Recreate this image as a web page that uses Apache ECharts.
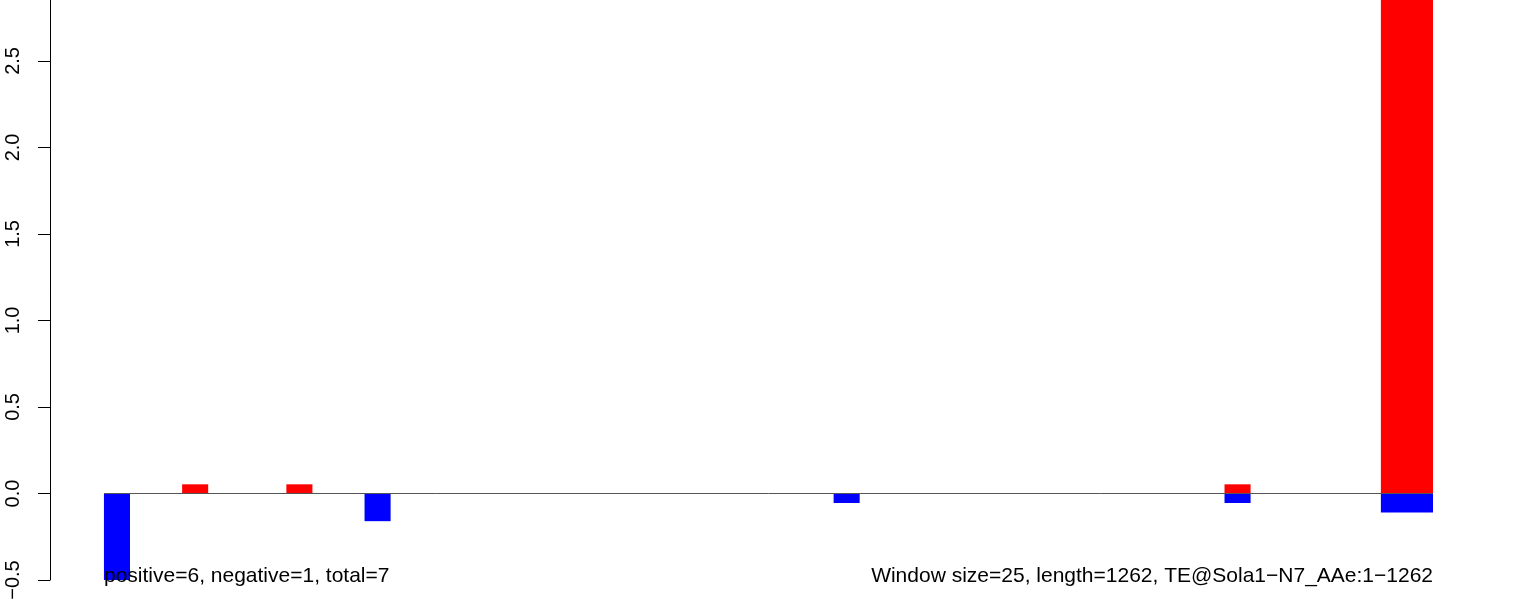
<!DOCTYPE html>
<html>
<head>
<meta charset="utf-8">
<script src="https://cdn.jsdelivr.net/npm/echarts@6/dist/echarts.min.js"></script>
<style>
  html, body { margin: 0; padding: 0; background: #fff; }
  #chart { width: 1533px; height: 607px; }
</style>
</head>
<body>
<div id="chart"></div>
<script>
// window index (25 bp windows), how many windows each bar covers, and the scores
const windows = [0, 3, 7, 10, 28, 43, 49]
const spans = [1, 1, 1, 1, 1, 1, 2]
const positive = [0, 0.053, 0.053, 0, 0, 0.053, 3.2]
const negative = [-0.53, 0, 0, -0.16, -0.055, -0.055, -0.11]
const yTicks = [-0.5, 0, 0.5, 1.0, 1.5, 2.0, 2.5]
const windowCount = 51
const leftNote = 'positive=6, negative=1, total=7'
const rightNote = 'Window size=25, length=1262, TE@Sola1\u2212N7_AAe:1\u22121262'

const font = '"Liberation Sans", Arial, Helvetica, sans-serif'

const chart = echarts.init(document.getElementById('chart'))

// one rectangle per window run
const renderBar = (params, api) => {
  const start = api.value(0)
  const span = api.value(1)
  const val = api.value(2)
  if (!val) return null
  const p0 = api.coord([start, 0])
  const p1 = api.coord([start + span, val])
  const cs = params.coordSys
  const rect = echarts.graphic.clipRectByRect({
    x: p0[0],
    y: Math.min(p0[1], p1[1]),
    width: p1[0] - p0[0],
    height: Math.abs(p1[1] - p0[1])
  }, { x: cs.x, y: cs.y, width: cs.width, height: cs.height })
  if (!rect) return null
  return { type: 'rect', shape: rect, style: { fill: api.visual('color') } }
}

const option = {
  animation: false,
  backgroundColor: '#ffffff',
  grid: { left: 50, right: 100, top: 0, bottom: 27 },
  xAxis: {
    type: 'value',
    // the plot region starts a little left of the first window (R axis gap)
    min: -2.07,
    max: windowCount,
    axisLine: { show: false },
    axisTick: { show: false },
    axisLabel: { show: false },
    splitLine: { show: false }
  },
  yAxis: {
    type: 'value',
    min: -0.5,
    max: 2.852,
    interval: 0.5,
    axisLine: { show: true, onZero: false, lineStyle: { color: '#000', width: 1 } },
    axisTick: { show: true, length: 12, lineStyle: { color: '#000' }, customValues: yTicks },
    axisLabel: {
      customValues: yTicks,
      rotate: 90,
      margin: 27,
      color: '#000',
      fontFamily: font,
      fontSize: 20,
      formatter: v => v.toFixed(1).replace('-', '\u2212')
    },
    splitLine: { show: false }
  },
  series: [
    {
      name: 'positive',
      type: 'custom',
      renderItem: renderBar,
      itemStyle: { color: '#ff0000' },
      data: windows.map((w, i) => [w, spans[i], positive[i]]),
      markLine: {
        silent: true,
        symbol: 'none',
        label: { show: false },
        lineStyle: { color: '#555555', width: 1, type: 'solid' },
        data: [[{ coord: [0, 0] }, { coord: [windowCount, 0] }]]
      },
      z: 2
    },
    {
      name: 'negative',
      type: 'custom',
      renderItem: renderBar,
      itemStyle: { color: '#0000ff' },
      data: windows.map((w, i) => [w, spans[i], negative[i]]),
      z: 2
    }
  ],
  graphic: [
    {
      type: 'text',
      left: 104,
      top: 566,
      z: 10,
      style: { text: leftNote, fill: '#000', font: '21px ' + font }
    },
    {
      type: 'text',
      right: 100,
      top: 566,
      z: 10,
      style: { text: rightNote, fill: '#000', font: '21px ' + font }
    }
  ]
}

chart.setOption(option)
</script>
</body>
</html>
